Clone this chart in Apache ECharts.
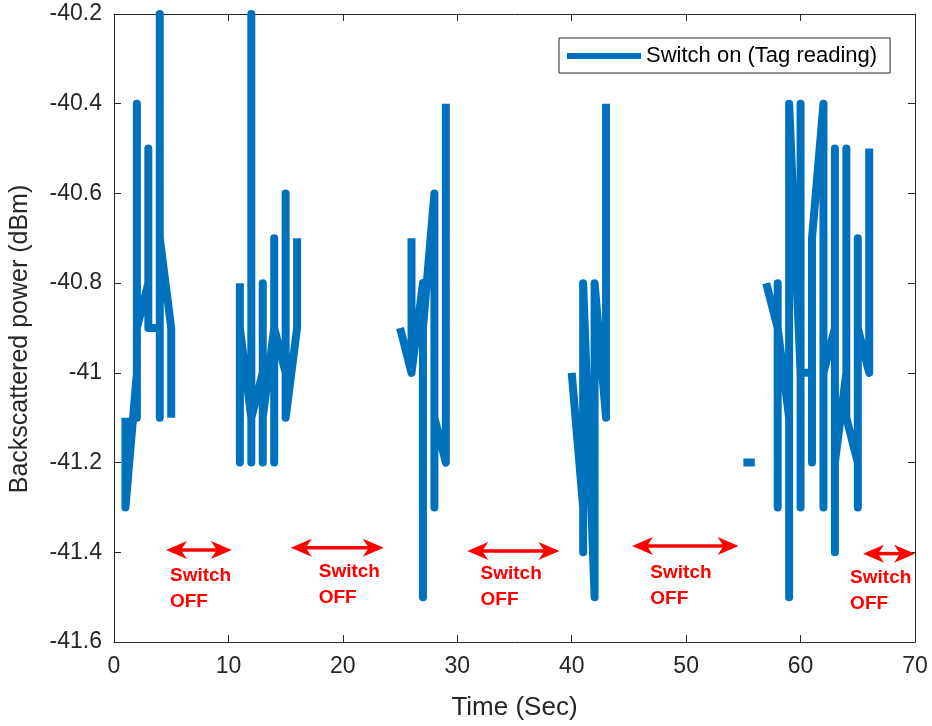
<!DOCTYPE html>
<html>
<head>
<meta charset="utf-8">
<script src="https://cdn.jsdelivr.net/npm/echarts@6/dist/echarts.min.js"></script>
<style>
html,body{margin:0;padding:0;background:#fff;}
#chart{width:932px;height:726px;}
</style>
</head>
<body>
<div id="chart"></div>
<script>
// ---- data (null marks a break in the trace) ----
const timeSec = [
  1,1,2,2,2,2,3,3,3,4,4,4,4,5,5, null,
  11,11,11,12,12,12,12,13,13,13,13,14,14,14,14,15,15,15,16,16, null,
  25,26,26, null,
  26,27,27,27,28,28,28,29,29, null,
  40,41,41,41,42,42,43,43, null,
  55,56, null,
  57,58,58,58,58,59,59,59,60,60,60,60,61,61,61,62,62,62,63,63,63,63,64,64,64,65,65,65,65,66,66
];
const powerDbm = [
  -41.1,-41.3,-41.0,-40.4,-41.1,-40.9,-40.8,-40.5,-40.9,-40.9,-40.2,-41.1,-40.7,-40.9,-41.1, null,
  -40.8,-41.2,-40.9,-41.1,-40.2,-41.2,-41.1,-41.0,-40.8,-41.2,-41.1,-40.9,-40.7,-41.2,-40.9,-41.0,-40.6,-41.1,-40.9,-40.7, null,
  -40.9,-41.0,-40.7, null,
  -41.0,-40.8,-41.5,-40.9,-40.6,-41.3,-41.1,-41.2,-40.4, null,
  -41.0,-41.3,-41.4,-40.8,-41.5,-40.8,-41.1,-40.4, null,
  -41.2,-41.2, null,
  -40.8,-40.9,-41.3,-40.8,-40.9,-41.1,-41.5,-40.4,-41.0,-41.3,-40.4,-41.0,-41.0,-41.2,-40.7,-40.4,-41.3,-41.0,-40.9,-41.4,-40.5,-41.2,-41.0,-40.5,-41.1,-41.2,-41.3,-40.7,-40.9,-41.0,-40.5
];
const seriesName = 'Switch on (Tag reading)';
const xTicks = { min: 0, max: 70, interval: 10 };
const yTicks = { min: -41.6, max: -40.2, interval: 0.2 };

// annotation arrows: [xStart, xEnd, y]
const arrowStart = [4.54, 15.45, 30.87, 45.27, 65.46];
const arrowEnd   = [10.30, 23.57, 38.93, 54.58, 70.0];
const arrowY     = [-41.395, -41.390, -41.397, -41.386, -41.403];
// annotation texts: top-left anchor
const noteX = [4.89, 17.89, 32.03, 46.87, 64.33];
const noteY = [-41.423, -41.414, -41.420, -41.416, -41.427];
const noteText = 'Switch\nOFF';

const lineData = timeSec.map((t, i) => (t === null || powerDbm[i] === null) ? ['-', '-'] : [t, powerDbm[i]]);
const arrowData = arrowStart.map((s, i) => [s, arrowEnd[i], arrowY[i]]);
const noteData = noteX.map((x, i) => [x, noteY[i]]);

const axisColor = '#262626';
const font = '"Liberation Sans", Arial, Helvetica, sans-serif';
const red = '#FF0000';

function arrowItem(params, api) {
  const p1 = api.coord([api.value(0), api.value(2)]);
  const p2 = api.coord([api.value(1), api.value(2)]);
  const y = p1[1];
  const L = 21, W = 9, N = 15;
  const a = p1[0], b = p2[0];
  return {
    type: 'group',
    children: [
      { type: 'line', shape: { x1: a + N - 2, y1: y, x2: b - N + 2, y2: y },
        style: { stroke: red, lineWidth: 3.5 } },
      { type: 'polygon', shape: { points: [[a, y], [a + L, y - W], [a + N, y], [a + L, y + W]] },
        style: { fill: red } },
      { type: 'polygon', shape: { points: [[b, y], [b - L, y - W], [b - N, y], [b - L, y + W]] },
        style: { fill: red } }
    ]
  };
}
function noteItem(params, api) {
  const p = api.coord([api.value(0), api.value(1)]);
  return {
    type: 'text',
    x: p[0], y: p[1],
    style: { text: noteText, fill: red, fontSize: 19, fontWeight: 'bold', fontFamily: font,
             lineHeight: 26, align: 'left', verticalAlign: 'top' }
  };
}

const chart = echarts.init(document.getElementById('chart'), null, { renderer: 'canvas' });
chart.setOption({
  animation: false,
  backgroundColor: '#ffffff',
  grid: { left: 113, right: 17, top: 14, bottom: 80, containLabel: false },
  legend: {
    data: [seriesName],
    left: 559, top: 38,
    padding: [7, 13, 6, 8],
    borderColor: axisColor, borderWidth: 1,
    backgroundColor: '#fff',
    icon: 'rect', itemWidth: 74, itemHeight: 6,
    textStyle: { fontSize: 22, fontFamily: font, color: '#000' },
    selectedMode: false
  },
  xAxis: [
    { type: 'value', position: 'bottom', min: xTicks.min, max: xTicks.max, interval: xTicks.interval,
      name: 'Time (Sec)', nameLocation: 'middle', nameGap: 53,
      nameTextStyle: { fontSize: 26, fontFamily: font, color: axisColor },
      axisLine: { show: true, onZero: false, lineStyle: { color: axisColor, width: 1 } },
      axisTick: { show: true, inside: true, length: 7, lineStyle: { color: axisColor } },
      axisLabel: { fontSize: 23, fontFamily: font, color: axisColor, margin: 13 },
      splitLine: { show: false } },
    { type: 'value', position: 'top', min: xTicks.min, max: xTicks.max, interval: xTicks.interval,
      axisLine: { show: true, onZero: false, lineStyle: { color: axisColor, width: 1 } },
      axisTick: { show: true, inside: true, length: 7, lineStyle: { color: axisColor } },
      axisLabel: { show: false }, splitLine: { show: false } }
  ],
  yAxis: [
    { type: 'value', position: 'left', min: yTicks.min, max: yTicks.max, interval: yTicks.interval,
      name: 'Backscattered power (dBm)', nameLocation: 'middle', nameGap: 81,
      nameTextStyle: { fontSize: 25, fontFamily: font, color: axisColor, padding: [0, 22, 0, 0] },
      axisLine: { show: true, onZero: false, lineStyle: { color: axisColor, width: 1 } },
      axisTick: { show: true, inside: true, length: 7, lineStyle: { color: axisColor } },
      axisLabel: { fontSize: 23, fontFamily: font, color: axisColor, margin: 12 },
      splitLine: { show: false } },
    { type: 'value', position: 'right', min: yTicks.min, max: yTicks.max, interval: yTicks.interval,
      axisLine: { show: true, onZero: false, lineStyle: { color: axisColor, width: 1 } },
      axisTick: { show: true, inside: true, length: 7, lineStyle: { color: axisColor } },
      axisLabel: { show: false }, splitLine: { show: false } }
  ],
  series: [
    { name: seriesName, type: 'line', data: lineData, xAxisIndex: 0, yAxisIndex: 0,
      showSymbol: false, symbol: 'none', connectNulls: false, clip: false,
      color: '#0072BD',
      lineStyle: { color: '#0072BD', width: 8, join: 'round', cap: 'butt' },
      emphasis: { disabled: true }, z: 3 },
    { type: 'custom', renderItem: arrowItem, data: arrowData, clip: false, silent: true, z: 4,
      encode: { x: [0, 1], y: 2 } },
    { type: 'custom', renderItem: noteItem, data: noteData, clip: false, silent: true, z: 4,
      encode: { x: 0, y: 1 } }
  ]
});
</script>
</body>
</html>
